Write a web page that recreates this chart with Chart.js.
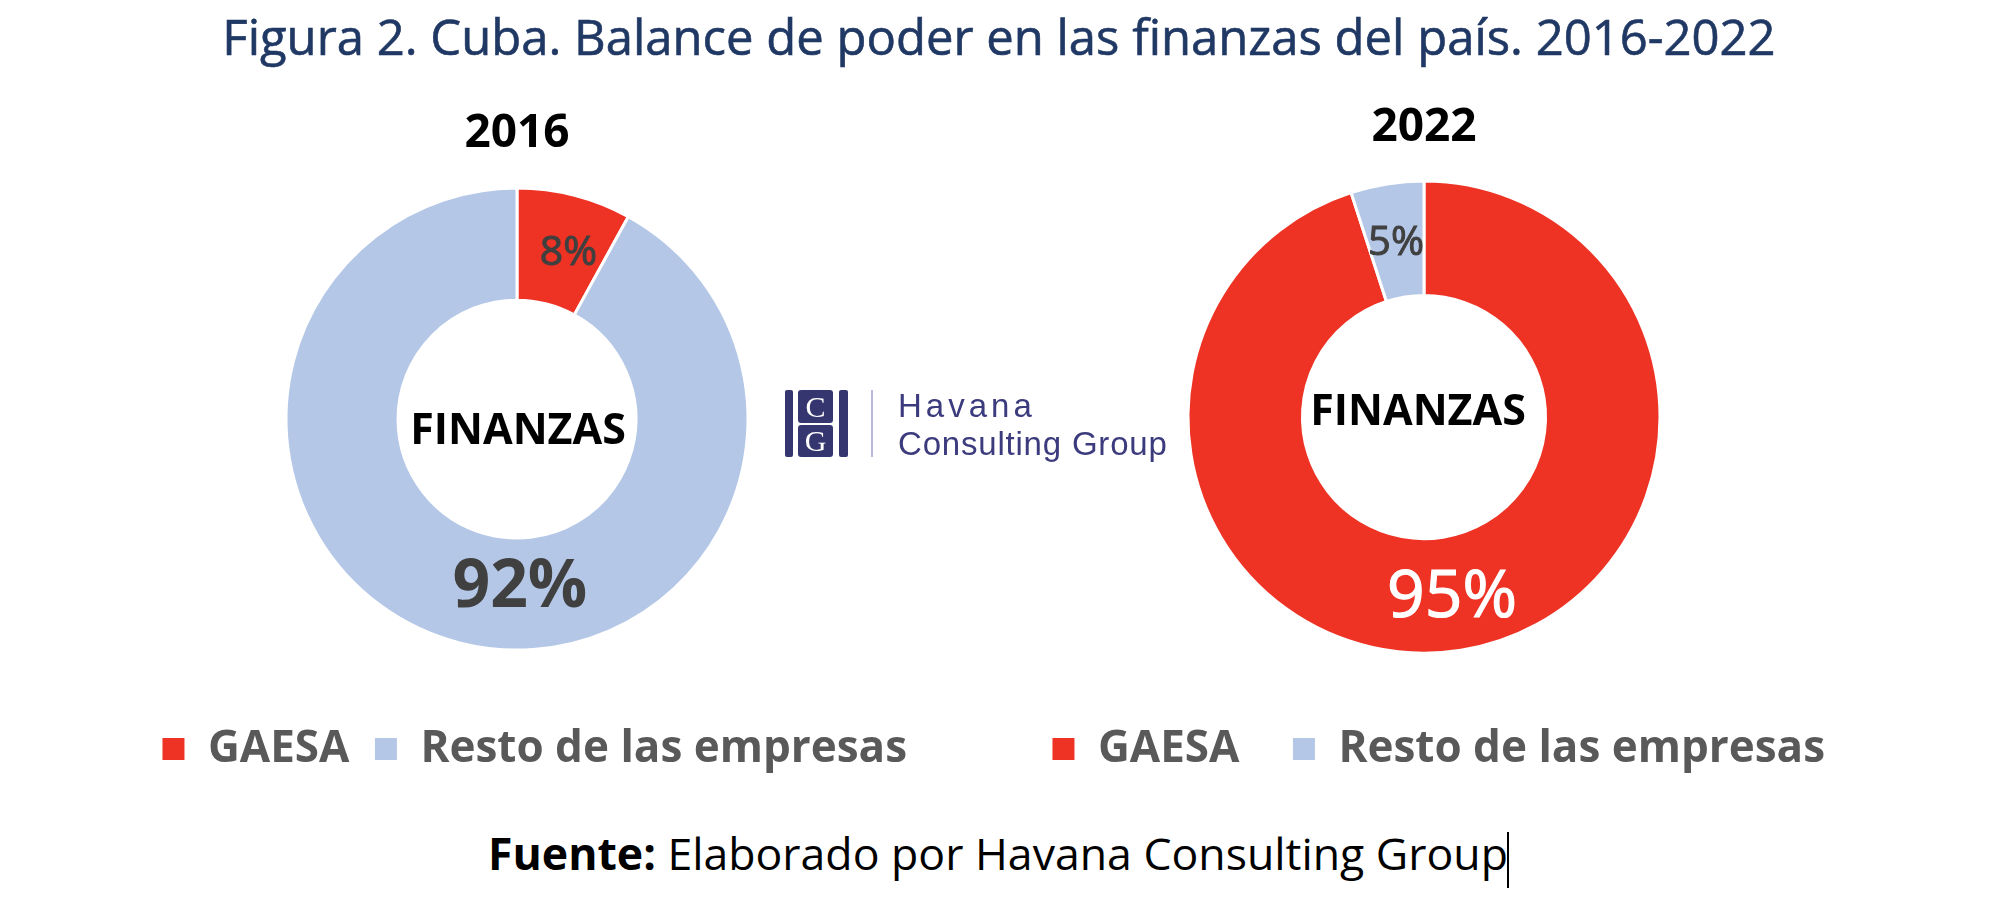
<!DOCTYPE html>
<html>
<head>
<meta charset="utf-8">
<script src="https://cdn.jsdelivr.net/npm/chart.js@4.4.1/dist/chart.umd.min.js"></script>
<style>
  html, body { margin: 0; padding: 0; background: #fff; }
  body { width: 1998px; height: 908px; position: relative; overflow: hidden; font-family: 'Open Sans', sans-serif; }
  .abs { position: absolute; }
  #title { left: 0; width: 1998px; top: 12px; text-align: center; font-size: 49px; line-height: 49px; color: #203864; white-space: nowrap; -webkit-text-stroke: 0.6px #203864; }
  #source { left: 488px; top: 831px; font-size: 44.6px; line-height: 44px; color: #000; white-space: nowrap; }
  #caret { left: 1507px; top: 832px; width: 2px; height: 56px; background: #000; }
  #c2016 { left: 0; top: 106px; }
  #c2022 { left: 850px; top: 100px; }
  .bar { background: #35356f; border-radius: 2px; }
  .box { background: #35356f; border-radius: 3px; color: #fff; font-family: 'Liberation Serif', serif; font-size: 30px; text-align: center; }
  .logo-txt { left: 898px; font-family: 'Liberation Sans', Arial, sans-serif; font-size: 33px; line-height: 33px; color: #3b3b7d; white-space: nowrap; }
</style>
</head>
<body>
<div id="title" class="abs">Figura 2. Cuba. Balance de poder en las finanzas del país. 2016-2022</div>

<canvas id="c2016" class="abs" width="1034" height="675"></canvas>
<canvas id="c2022" class="abs" width="1148" height="681"></canvas>

<!-- logo -->
<div class="abs bar" style="left:785px;top:390px;width:8px;height:67px;"></div>
<div class="abs box" style="left:798px;top:390px;width:35px;height:33px;line-height:33px;">C</div>
<div class="abs box" style="left:798px;top:425px;width:35px;height:32px;line-height:32px;">G</div>
<div class="abs bar" style="left:839px;top:390px;width:9px;height:67px;"></div>
<div class="abs" style="left:871px;top:390px;width:2px;height:67px;background:#b8b8dc;"></div>
<div class="abs logo-txt" style="top:389px;letter-spacing:4px;">Havana</div>
<div class="abs logo-txt" style="top:427px;letter-spacing:0.8px;">Consulting Group</div>

<div id="source" class="abs"><b>Fuente:</b> Elaborado por Havana Consulting Group</div>
<div id="caret" class="abs"></div>

<script>
const categories = ['GAESA', 'Resto de las empresas'];
const share2016 = [8, 92];
const share2022 = [95, 5];
const sliceColors = ['#EE3224', '#B4C7E7'];

const FONT = "'Open Sans'";

// percentage labels on the ring; angle (deg from top, clockwise) and r override the arc centre
function sliceLabels(cfg) {
  return {
    id: 'sliceLabels',
    afterDatasetsDraw(chart) {
      const ctx = chart.ctx;
      const ds = chart.data.datasets[0];
      chart.getDatasetMeta(0).data.forEach((arc, i) => {
        const c = cfg[i];
        let x, y;
        if (c.angle !== undefined) {
          const a = c.angle * Math.PI / 180;
          x = arc.x + Math.sin(a) * c.r;
          y = arc.y - Math.cos(a) * c.r;
        } else {
          const p = arc.getCenterPoint();
          x = p.x; y = p.y;
        }
        const txt = ds.data[i] + '%';
        const by = y + c.size * 0.357;
        ctx.save();
        ctx.font = `${c.weight} ${c.size}px ${FONT}`;
        ctx.fillStyle = c.color;
        ctx.textAlign = 'center';
        ctx.textBaseline = 'alphabetic';
        ctx.fillText(txt, x, by);
        if (c.stroke) {
          ctx.strokeStyle = c.color;
          ctx.lineWidth = c.stroke;
          ctx.strokeText(txt, x, by);
        }
        ctx.restore();
      });
    }
  };
}

function centerText(text, dx, dy) {
  return {
    id: 'centerText',
    afterDatasetsDraw(chart) {
      const arc = chart.getDatasetMeta(0).data[0];
      const ctx = chart.ctx;
      const size = 43;
      ctx.save();
      ctx.font = `bold ${size}px ${FONT}`;
      ctx.fillStyle = '#000';
      ctx.textAlign = 'center';
      ctx.textBaseline = 'alphabetic';
      ctx.fillText(text, arc.x + dx, arc.y + dy + size * 0.357);
      ctx.restore();
    }
  };
}

function legendShift(dx) {
  return {
    id: 'legendShift',
    afterLayout(chart) {
      chart.legend.left += dx;
      chart.legend.right += dx;
    }
  };
}

function donut(id, year, values, o) {
  return new Chart(document.getElementById(id), {
    type: 'doughnut',
    data: {
      labels: categories,
      datasets: [{
        data: values,
        backgroundColor: sliceColors,
        borderColor: '#fff',
        borderWidth: 3,
        radius: o.radius,
        cutout: '51.5%'
      }]
    },
    options: {
      responsive: false,
      animation: false,
      plugins: {
        title: {
          display: true,
          text: year,
          color: '#000',
          font: { family: FONT, size: 46, weight: 'bold' },
          padding: { top: 0, bottom: o.titleGap }
        },
        legend: {
          position: 'bottom',
          labels: {
            color: '#595959',
            font: { family: FONT, size: 44, weight: 'bold' },
            boxWidth: 25,
            boxHeight: 25,
            padding: o.legendGap
          }
        },
        tooltip: { enabled: false }
      }
    },
    plugins: [sliceLabels(o.labels), centerText('FINANZAS', o.cx, o.cy), legendShift(o.legendDx)]
  });
}

donut('c2016', '2016', share2016, {
  radius: 231, titleGap: -26, legendGap: 24, legendDx: 17, cx: 1, cy: 10,
  labels: [
    { weight: 'normal', size: 41, color: '#404040', angle: 17, r: 176, stroke: 1 },
    { weight: 'bold', size: 66, color: '#404040', angle: 179, r: 164 }
  ]
});

donut('c2022', '2022', share2022, {
  radius: 236, titleGap: 4, legendGap: 52, legendDx: 14, cx: -6, cy: -7,
  labels: [
    { weight: 'normal', size: 66, color: '#ffffff', stroke: 1.2 },
    { weight: 'normal', size: 40, color: '#404040', stroke: 1 }
  ]
});
</script>
</body>
</html>
